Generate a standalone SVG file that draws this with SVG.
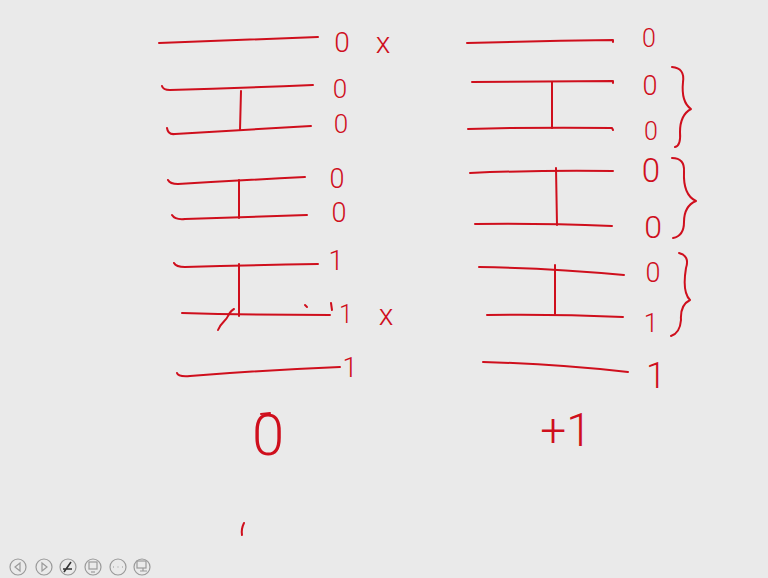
<svg xmlns="http://www.w3.org/2000/svg" width="768" height="578" viewBox="0 0 768 578">
<style>
.s{fill:none;stroke:#cf0f1d;stroke-width:2;stroke-linecap:round;stroke-linejoin:round}
.t{fill:#cf0f1d;font-family:Roboto,"Liberation Sans",sans-serif;font-weight:300;text-anchor:middle}
.ic{fill:none;stroke:#9a9a9a;stroke-width:1.2}
</style>
<rect width="768" height="578" fill="#eaeaea"/>
<g id="left-column">
<path class="s" d="M159,43 Q240,40 318,37"/>
<path class="s" d="M162,86 Q163,90 170,90 Q240,88 313,85"/>
<path class="s" d="M241,91 L240,130"/>
<path class="s" d="M167,128 Q168,135 175,134 Q245,130 311,126"/>
<path class="s" d="M168,180 Q170,184 178,184 Q245,180 305,177"/>
<path class="s" d="M239,180 L239,218"/>
<path class="s" d="M172,215 Q175,220 185,219 Q250,217 307,215"/>
<path class="s" d="M174,263 Q176,267 185,267 Q250,265 318,264"/>
<path class="s" d="M239,264 L239,316"/>
<path class="s" d="M182,313 Q250,315 330,315"/>
<path class="s" d="M331,303 L332,310"/>
<path class="s" d="M305,305 L307,307"/>
<path class="s" d="M218,330 C221,322 226,321 228,316 C230,312 232,310 234,309"/>
<path class="s" d="M177,373 Q178,377 190,376 Q265,370 340,367"/>
<text class="t" x="342" y="52" font-size="28">0</text>
<text class="t" x="383" y="53" font-size="30">x</text>
<text class="t" x="340" y="98" font-size="26">0</text>
<text class="t" x="341" y="133" font-size="26">0</text>
<text class="t" x="337" y="188" font-size="27">0</text>
<text class="t" x="339" y="222" font-size="27">0</text>
<text class="t" x="336" y="270" font-size="27">1</text>
<text class="t" x="346" y="323" font-size="25">1</text>
<text class="t" x="386" y="325" font-size="30">x</text>
<text class="t" x="350" y="377" font-size="27">1</text>
</g>
<g id="left-result">
<text class="t" x="268" y="455" font-size="58">0</text>
<path class="s" d="M261,414 L270,413"/>
<path class="s" d="M244,523 Q241,529 242,535"/>
</g>
<g id="right-column">
<path class="s" d="M467,43 Q540,41 613,40 L613,42"/>
<path class="s" d="M472,82 L613,81 L613,83"/>
<path class="s" d="M552,82 L552,128"/>
<path class="s" d="M468,129 Q540,127 612,128 L613,130"/>
<path class="s" d="M470,173 Q540,170 613,171"/>
<path class="s" d="M556,168 L557,225"/>
<path class="s" d="M475,224 Q540,223 612,226"/>
<path class="s" d="M479,267 Q550,268 624,275"/>
<path class="s" d="M555,265 L555,314"/>
<path class="s" d="M487,315 Q555,314 623,317"/>
<path class="s" d="M483,362 Q555,364 628,372"/>
<path class="s" d="M672,67 Q685,68 683,82 Q681,102 691,109 Q680,115 680,132 Q681,146 675,147"/>
<path class="s" d="M672,158 Q685,158 684,172 Q683,195 696,201 Q684,206 684,222 Q684,236 673,238"/>
<path class="s" d="M679,253 Q690,256 686,268 Q682,292 690,300 Q680,305 681,320 Q680,333 671,336"/>
<text class="t" x="649" y="47" font-size="25">0</text>
<text class="t" x="650" y="95" font-size="27">0</text>
<text class="t" x="651" y="140" font-size="25">0</text>
<text class="t" x="651" y="182" font-size="33">0</text>
<text class="t" x="653" y="238" font-size="32">0</text>
<text class="t" x="653" y="282" font-size="27">0</text>
<text class="t" x="651" y="332" font-size="26">1</text>
<text class="t" x="656" y="388" font-size="36">1</text>
</g>
<g id="right-result">
<text class="t" x="566" y="446" font-size="46">+1</text>
</g>
<g id="toolbar">
<circle class="ic" cx="18" cy="567" r="8"/>
<path class="ic" d="M20,563 L15,567 L20,571 Z"/>
<circle class="ic" cx="44" cy="567" r="8"/>
<path class="ic" d="M42,563 L47,567 L42,571 Z"/>
<circle class="ic" cx="68" cy="567" r="8" stroke="#555"/>
<path d="M64,572 L71,562 M63,569 L72,569" stroke="#333" stroke-width="1.6" fill="none"/>
<circle class="ic" cx="93" cy="567" r="8"/>
<rect class="ic" x="89" y="562" width="8" height="7"/>
<path class="ic" d="M91,572 L95,572"/>
<circle class="ic" cx="118" cy="567" r="8"/>
<path class="ic" d="M113,567 h1 M117.5,567 h1 M122,567 h1"/>
<circle class="ic" cx="142" cy="567" r="8"/>
<rect class="ic" x="137" y="561" width="9" height="7"/>
<path class="ic" d="M140,571 L147,571 M143,568 L143,571"/>
</g>
</svg>
